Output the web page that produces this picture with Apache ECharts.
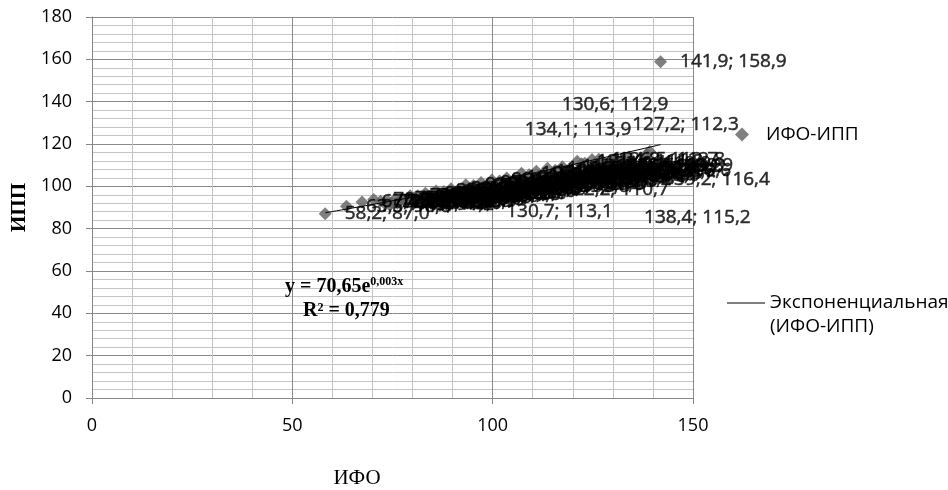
<!DOCTYPE html>
<html><head><meta charset="utf-8">
<script src="https://cdn.jsdelivr.net/npm/echarts@6/dist/echarts.min.js"></script>
<style>html,body{margin:0;padding:0;background:#fff}#c{width:948px;height:490px}</style>
</head><body><div id="c"></div>
<script>
// ---- data ----
const ifo = [58.2, 63.5, 67.4, 70.3,
  72.0, 72.9, 73.9, 74.8, 75.7, 76.7, 77.6, 78.5, 79.4, 80.4,
  81.3, 82.2, 83.2, 84.1, 85.0, 85.9, 86.9, 87.8, 88.7, 89.6,
  90.6, 91.5, 92.4, 93.3, 94.3, 95.2, 96.1, 97.1, 98.0, 98.9,
  99.8, 100.8, 101.7, 102.6, 103.5, 104.5, 105.4, 106.3, 107.2, 108.2,
  109.1, 110.0, 110.9, 111.9, 112.8, 113.7, 114.6, 115.6, 116.5, 117.4,
  118.3, 119.3, 120.2, 121.1,
  122.2, 123.0, 123.9, 124.8, 125.7, 126.5, 127.2, 128.5, 130.6, 130.7,
  134.1, 138.4, 139.2,
  74.3, 76.2, 78.0, 80.0, 81.8, 83.7, 85.5, 87.3, 89.2, 91.0,
  92.9, 94.7, 96.6, 98.4, 100.3, 102.1, 104.0, 105.8, 107.7, 109.5,
  111.4, 113.2, 115.1, 116.9, 118.8, 120.6, 122.5, 124.3, 126.2, 128.0,
  141.9];
const ipp = [87.0, 90.6, 92.6, 93.8,
  92.9, 92.2, 93.0, 92.1, 94.0, 93.1, 94.0, 92.8, 95.6, 94.6,
  95.6, 94.4, 96.7, 95.4, 96.5, 97.8, 96.5, 97.6, 95.9, 98.8,
  97.2, 98.5, 96.6, 100.8, 99.0, 100.4, 98.5, 101.8, 99.8, 101.3,
  103.0, 101.0, 102.5, 100.0, 103.9, 101.7, 103.3, 100.6, 106.2, 103.7,
  105.5, 102.9, 107.1, 104.5, 106.3, 108.5, 105.7, 107.6, 104.4, 109.3,
  106.4, 108.4, 105.0, 111.8,
  110.7, 110.9, 107.6, 112.7, 109.2, 112.8, 112.3, 109.9, 112.9, 113.1,
  113.9, 115.2, 116.4,
  91.2, 92.0, 93.1, 92.9, 93.8, 94.5, 95.0, 95.4, 96.8, 96.3,
  97.9, 97.6, 99.3, 98.7, 100.6, 99.9, 101.8, 101.2, 103.4, 102.3,
  104.6, 103.2, 105.9, 104.6, 107.0, 105.8, 108.4, 106.9, 109.8, 107.6,
  158.9];
// trendline
const trendIfo = [58.2, 80, 100, 120, 141.9];
const trendIpp = [87.5, 94.9, 102.3, 110.3, 119.7];
const xTicks = [0, 50, 100, 150];
const yTicks = [0, 20, 40, 60, 80, 100, 120, 140, 160, 180];
const seriesName = 'ИФО-ИПП';
const trendName = 'Экспоненциальная (ИФО-ИПП)';
const eqMain = 'y = 70,65e';
const eqExp = '0,003x';
const eqR2 = 'R² = 0,779';

// ---- label layout (manually moved labels, pixels) ----
const labelNudge = {
  '127,2; 112,3': [11, -36],
  '130,6; 112,9': [-73, -54],
  '134,1; 113,9': [-124, -27],
  '130,7; 113,1': [-129, 53],
  '138,4; 115,2': [-22, 63],
  '139,2; 116,4': [-6, 28],
  '122,2; 110,7': [-39, 26]
};

const fmt = v => v.toFixed(1).replace('.', ',');
const points = ifo.map((x, i) => {
  const item = { value: [x, ipp[i]] };
  const t = fmt(x) + '; ' + fmt(ipp[i]);
  if (labelNudge[t]) item.label = { offset: labelNudge[t] };
  return item;
});
const trend = trendIfo.map((x, i) => [x, trendIpp[i]]);

const chart = echarts.init(document.getElementById('c'), null, { renderer: 'canvas' });
const axisGray = '#868686';
const sans = 'Open Sans';
const serif = 'Liberation Serif';
chart.setOption({
  animation: false,
  backgroundColor: '#fff',
  textStyle: { fontFamily: sans },
  grid: { left: 92, right: 255, top: 17, bottom: 92, containLabel: false, outerBoundsMode: 'none' },
  xAxis: {
    type: 'value', min: xTicks[0], max: xTicks[xTicks.length - 1], interval: xTicks[1] - xTicks[0],
    name: 'ИФО', nameLocation: 'middle', nameGap: 70,
    nameTextStyle: { fontFamily: serif, fontSize: 21, color: '#000', padding: [0, 71, 0, 0] },
    axisLine: { show: true, lineStyle: { color: axisGray, width: 1 } },
    axisTick: { show: true, length: 6, lineStyle: { color: axisGray } },
    axisLabel: { margin: 19, fontSize: 18, color: '#000', fontFamily: sans },
    splitLine: { show: true, lineStyle: { color: '#8a8a8a', width: 1 } },
    minorTick: { show: false, splitNumber: 5 },
    minorSplitLine: { show: true, lineStyle: { color: '#c4c4c4', width: 1 } }
  },
  yAxis: {
    type: 'value', min: yTicks[0], max: yTicks[yTicks.length - 1], interval: yTicks[1] - yTicks[0],
    name: 'ИПП', nameLocation: 'middle', nameGap: 60, nameRotate: 90,
    nameTextStyle: { fontFamily: serif, fontSize: 21, color: '#000', fontWeight: 'bold' },
    axisLine: { show: true, lineStyle: { color: axisGray, width: 1 } },
    axisTick: { show: true, length: 6, lineStyle: { color: axisGray } },
    axisLabel: { margin: 20, fontSize: 18, color: '#000', fontFamily: sans },
    splitLine: { show: true, lineStyle: { color: '#8a8a8a', width: 1 } },
    minorTick: { show: false, splitNumber: 5 },
    minorSplitLine: { show: true, lineStyle: { color: '#c4c4c4', width: 1 } }
  },
  legend: [
    {
      data: [{ name: seriesName, icon: 'diamond' }],
      left: 735, top: 125, padding: 0, selectedMode: false,
      itemWidth: 14, itemHeight: 14,
      textStyle: { fontSize: 19, color: '#000', fontFamily: sans, padding: [0, 0, 0, 12] }
    },
    {
      data: [{ name: trendName, icon: 'rect' }],
      left: 727, top: 267, padding: 0, selectedMode: false,
      itemWidth: 38, itemHeight: 1,
      formatter: n => ' \n' + n.replace(' ', '\n'),
      textStyle: { fontSize: 19, lineHeight: 24, color: '#000', fontFamily: sans }
    }
  ],
  graphic: [
    {
      type: 'text', left: 285, top: 276, z: 10,
      style: {
        text: '{m|' + eqMain + '}{s|' + eqExp + '}',
        rich: {
          m: { fontSize: 20, fontWeight: 'bold', fontFamily: serif, fill: '#000' },
          s: { fontSize: 12, fontWeight: 'bold', fontFamily: serif, fill: '#000', verticalAlign: 'top', padding: [0, 0, 10, 0] }
        }
      }
    },
    {
      type: 'text', left: 303, top: 301, z: 10,
      style: { text: eqR2, fontSize: 20, fontWeight: 'bold', fontFamily: serif, fill: '#000' }
    }
  ],
  series: [
    {
      name: seriesName, type: 'scatter', symbol: 'diamond', symbolSize: 13,
      itemStyle: { color: '#606060' },
      data: points,
      label: {
        show: true, position: 'right', distance: 13,
        formatter: p => fmt(p.value[0]) + '; ' + fmt(p.value[1]),
        fontSize: 19, fontFamily: sans, color: '#000',
        textBorderColor: '#000', textBorderWidth: 0.5
      },
      emphasis: { disabled: true },
      z: 2
    },
    {
      name: trendName, type: 'line', data: trend, symbol: 'none', smooth: true,
      lineStyle: { color: '#000', width: 1 }, itemStyle: { color: '#000' },
      emphasis: { disabled: true },
      z: 3
    }
  ]
});
</script>
</body></html>
